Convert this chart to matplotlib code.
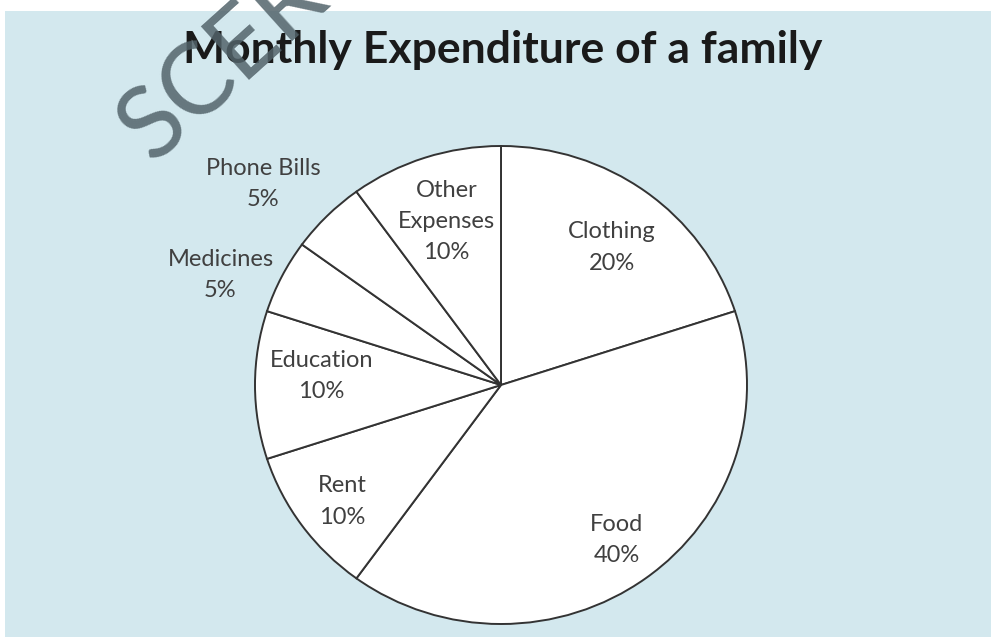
import numpy as np
import matplotlib.pyplot as plt
from matplotlib.patches import Rectangle

# Data
categories = ["Clothing", "Food", "Rent", "Education", "Medicines", "Phone Bills", "Other\nExpenses"]
shares = [20, 40, 10, 10, 5, 5, 10]

# label placement (fraction of radius, angle nudge in degrees)
label_dist = [0.73, 0.80, 0.81, 0.73, 1.23, 1.28, 0.72]
label_nudge = [-2, 0, 1, -3, 5, 4, 0]

bg = "#d3e8ee"
plt.rcParams["font.family"] = ["Lato", "DejaVu Sans"]

fig = plt.figure(figsize=(9.91, 6.37), dpi=100)
fig.patch.set_facecolor("white")
fig.patches.append(Rectangle((5 / 991, 0), 1, (637 - 11) / 637, transform=fig.transFigure,
                             facecolor=bg, edgecolor="none", zorder=-10))

W, H = 991, 637
cx, cy, rx, ry = 501, 385, 246, 239
ax = fig.add_axes([(cx - rx) / W, (H - cy - ry) / H, 2 * rx / W, 2 * ry / H])

wedges, _ = ax.pie(shares, startangle=90, counterclock=False,
                   colors=["white"] * len(shares),
                   wedgeprops=dict(edgecolor="#333333", linewidth=1.4))
ax.set_xlim(-1, 1)
ax.set_ylim(-1, 1)
ax.set_aspect("auto")
ax.axis("off")

for w, cat, val, d, nd in zip(wedges, categories, shares, label_dist, label_nudge):
    ang = np.deg2rad((w.theta1 + w.theta2) / 2 + nd)
    ax.text(d * np.cos(ang), d * np.sin(ang), f"{cat}\n{val}%", ha="center", va="center",
            fontsize=17, color="#404040", linespacing=1.6, clip_on=False)

fig.text(503 / W, 1 - 50 / H, "Monthly Expenditure of a family", ha="center", va="center",
         fontsize=32, fontweight="bold", color="#1a1a1a")

# watermark
fig.text(245 / W, 1 - 42 / H, "SCERT", ha="center", va="center", rotation=42, fontsize=72,
         color="#52636a", alpha=0.85, fontweight="normal", zorder=5)

fig.savefig("out.png", dpi=100)
